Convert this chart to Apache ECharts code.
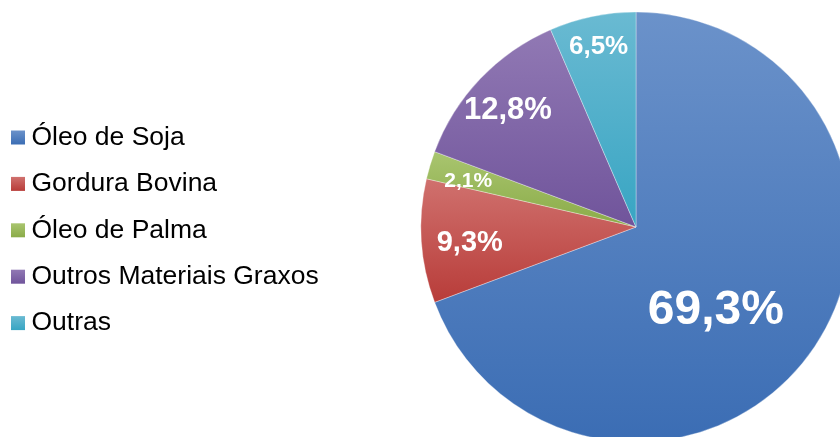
<!DOCTYPE html>
<html>
<head>
<meta charset="utf-8">
<script src="https://cdn.jsdelivr.net/npm/echarts@6/dist/echarts.min.js"></script>
<style>
  html, body { margin: 0; padding: 0; background: #ffffff; }
  #chart { width: 840px; height: 437px; }
</style>
</head>
<body>
<div id="chart"></div>
<script>
// Matérias-primas: participação percentual
const categories = ['Óleo de Soja', 'Gordura Bovina', 'Óleo de Palma', 'Outros Materiais Graxos', 'Outras'];
const shares = [69.3, 9.3, 2.1, 12.8, 6.5];

// Vertical gradient per slice: lighter at the top, darker at the bottom
const topColors = ['#6b92ca', '#d0716e', '#a9c56f', '#9179b4', '#6abad2'];
const bottomColors = ['#3b6db4', '#b83c39', '#8aab48', '#70549b', '#38a5c3'];
const labelSizes = [48, 29, 21, 31, 26];
// Shift of each value label from its default in-slice spot
const labelShift = [[-11, 21], [-56, 9], [-62, -14], [-48, -40], [-15, -72]];

function gradient(i) {
  return new echarts.graphic.LinearGradient(0, 0, 0, 1, [
    { offset: 0, color: topColors[i] },
    { offset: 1, color: bottomColors[i] }
  ]);
}

const seriesData = categories.map((name, i) => ({
  name: name,
  value: shares[i],
  itemStyle: { color: gradient(i) },
  label: { fontSize: labelSizes[i] }
}));

const chart = echarts.init(document.getElementById('chart'), null, { renderer: 'canvas' });
chart.setOption({
  animation: false,
  backgroundColor: '#ffffff',
  legend: {
    orient: 'vertical',
    left: 11,
    top: 124,
    padding: 0,
    itemWidth: 14,
    itemHeight: 14,
    itemGap: 19.4,
    icon: 'rect',
    itemStyle: { borderWidth: 0 },
    data: categories,
    textStyle: {
      fontFamily: 'Liberation Sans, Arial, sans-serif',
      fontSize: 26.5,
      lineHeight: 26,
      color: '#000000',
      padding: [0, 0, 0, 1.5]
    }
  },
  series: [{
    type: 'pie',
    center: [636, 227],
    radius: [0, 215],
    startAngle: 90,
    clockwise: true,
    avoidLabelOverlap: false,
    silent: true,
    itemStyle: {
      borderColor: 'rgba(255,255,255,0.55)',
      borderWidth: 0.6
    },
    label: {
      show: true,
      position: 'inside',
      color: '#ffffff',
      fontWeight: 'bold',
      fontFamily: 'Liberation Sans, Arial, sans-serif',
      formatter: p => p.value.toFixed(1).replace('.', ',') + '%'
    },
    labelLine: { show: false },
    labelLayout: function (params) {
      const s = labelShift[params.dataIndex];
      return { dx: s[0], dy: s[1] };
    },
    data: seriesData
  }]
});
</script>
</body>
</html>
